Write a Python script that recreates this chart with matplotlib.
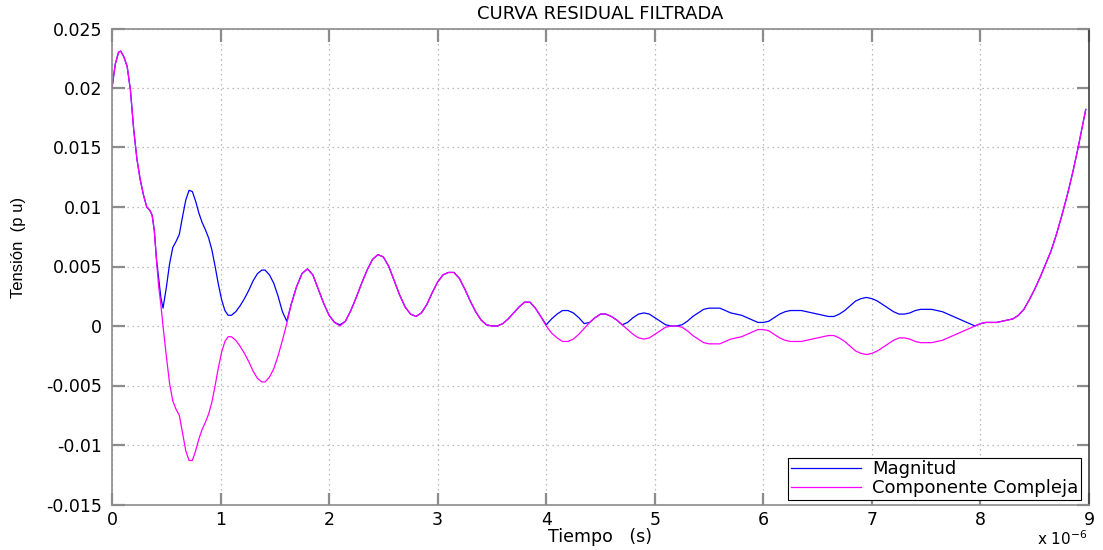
import matplotlib
matplotlib.use("Agg")
import matplotlib.pyplot as plt
from matplotlib.ticker import FuncFormatter, MultipleLocator

# tiempo en microsegundos (eje x en unidades de 1e-6 s)
tiempo_us = [
    0.00, 0.03, 0.06, 0.08, 0.11, 0.14, 0.17, 0.20, 0.23, 0.26, 0.29, 0.32,
    0.35, 0.37, 0.39, 0.41, 0.43, 0.45, 0.47, 0.50, 0.53, 0.56, 0.59, 0.62,
    0.65, 0.68, 0.71, 0.74, 0.77, 0.80, 0.83, 0.86, 0.89, 0.92, 0.95, 0.98,
    1.01, 1.04, 1.07, 1.10, 1.14, 1.18, 1.22, 1.26, 1.30, 1.34, 1.38, 1.41,
    1.45, 1.49, 1.53, 1.57, 1.61, 1.65, 1.70, 1.75, 1.80, 1.85, 1.90, 1.95,
    2.00, 2.05, 2.10, 2.15, 2.20, 2.25, 2.30, 2.35, 2.40, 2.45, 2.50, 2.55,
    2.60, 2.65, 2.70, 2.75, 2.80, 2.85, 2.90, 2.95, 3.00, 3.05, 3.10, 3.15,
    3.20, 3.25, 3.30, 3.35, 3.40, 3.45, 3.50, 3.55, 3.60, 3.65, 3.70, 3.75,
    3.80, 3.85, 3.90, 3.95, 4.00, 4.05, 4.10, 4.15, 4.20, 4.25, 4.30, 4.35,
    4.40, 4.45, 4.50, 4.55, 4.60, 4.65, 4.70, 4.75, 4.80, 4.85, 4.90, 4.95,
    5.00, 5.05, 5.10, 5.15, 5.20, 5.25, 5.30, 5.35, 5.40, 5.45, 5.50, 5.55,
    5.60, 5.65, 5.70, 5.75, 5.80, 5.85, 5.90, 5.95, 6.00, 6.05, 6.10, 6.15,
    6.20, 6.25, 6.30, 6.35, 6.40, 6.45, 6.50, 6.55, 6.60, 6.65, 6.70, 6.75,
    6.80, 6.85, 6.90, 6.95, 7.00, 7.05, 7.10, 7.15, 7.20, 7.25, 7.30, 7.35,
    7.40, 7.45, 7.50, 7.55, 7.60, 7.65, 7.70, 7.75, 7.80, 7.85, 7.90, 7.95,
    8.00, 8.05, 8.10, 8.15, 8.20, 8.25, 8.30, 8.35, 8.40, 8.45, 8.50, 8.55,
    8.60, 8.65, 8.70, 8.75, 8.80, 8.85, 8.90, 8.95, 8.97,
]

componente_compleja = [
    0.0200, 0.0220, 0.0230, 0.0231, 0.0226, 0.0218, 0.0198, 0.0165, 0.0140, 0.0123, 0.0110, 0.0100,
    0.0097, 0.0093, 0.0080, 0.0055, 0.0033, 0.0018, 0.0000, -0.0025, -0.0048, -0.0063, -0.0070, -0.0075,
    -0.0090, -0.0105, -0.0113, -0.0113, -0.0105, -0.0095, -0.0087, -0.0081, -0.0074, -0.0064, -0.0050, -0.0035,
    -0.0022, -0.0013, -0.0009, -0.0009, -0.0012, -0.0017, -0.0023, -0.0030, -0.0038, -0.0044, -0.0047, -0.0047,
    -0.0043, -0.0036, -0.0025, -0.0012, 0.0002, 0.0018, 0.0033, 0.0044, 0.0048, 0.0043, 0.0031, 0.0019,
    0.0009, 0.0003, 0.0000, 0.0004, 0.0013, 0.0024, 0.0036, 0.0047, 0.0056, 0.0060, 0.0058, 0.0050,
    0.0038, 0.0026, 0.0016, 0.0010, 0.0008, 0.0011, 0.0018, 0.0028, 0.0037, 0.0043, 0.0045, 0.0045,
    0.0040, 0.0031, 0.0021, 0.0012, 0.0005, 0.0001, 0.0000, 0.0000, 0.0002, 0.0006, 0.0011, 0.0016,
    0.0020, 0.0020, 0.0015, 0.0008, 0.0000, -0.0006, -0.0010, -0.0013, -0.0013, -0.0011, -0.0007, -0.0002,
    0.0003, 0.0007, 0.0010, 0.0010, 0.0008, 0.0005, 0.0001, -0.0003, -0.0007, -0.0010, -0.0011, -0.0010,
    -0.0007, -0.0004, -0.0001, 0.0000, 0.0000, -0.0001, -0.0004, -0.0008, -0.0011, -0.0014, -0.0015, -0.0015,
    -0.0015, -0.0013, -0.0011, -0.0010, -0.0009, -0.0007, -0.0005, -0.0003, -0.0003, -0.0004, -0.0007, -0.0010,
    -0.0012, -0.0013, -0.0013, -0.0013, -0.0012, -0.0011, -0.0010, -0.0009, -0.0008, -0.0008, -0.0010, -0.0013,
    -0.0017, -0.0021, -0.0023, -0.0024, -0.0023, -0.0021, -0.0018, -0.0015, -0.0012, -0.0010, -0.0010, -0.0011,
    -0.0013, -0.0014, -0.0014, -0.0014, -0.0013, -0.0012, -0.0010, -0.0008, -0.0006, -0.0004, -0.0002, 0.0000,
    0.0002, 0.0003, 0.0003, 0.0003, 0.0004, 0.0005, 0.0006, 0.0009, 0.0014, 0.0022, 0.0031, 0.0041,
    0.0052, 0.0063, 0.0077, 0.0093, 0.0110, 0.0129, 0.0150, 0.0173, 0.0182,
]

magnitud = [
    0.0200, 0.0220, 0.0230, 0.0231, 0.0226, 0.0218, 0.0198, 0.0165, 0.0140, 0.0123, 0.0110, 0.0100,
    0.0097, 0.0093, 0.0080, 0.0056, 0.0040, 0.0024, 0.0015, 0.0032, 0.0052, 0.0066, 0.0071, 0.0077,
    0.0092, 0.0106, 0.0114, 0.0113, 0.0105, 0.0095, 0.0087, 0.0081, 0.0074, 0.0064, 0.0050, 0.0035,
    0.0022, 0.0013, 0.0009, 0.0009, 0.0012, 0.0017, 0.0023, 0.0030, 0.0038, 0.0044, 0.0047, 0.0047,
    0.0043, 0.0036, 0.0025, 0.0012, 0.0004, 0.0018, 0.0033, 0.0044, 0.0048, 0.0043, 0.0031, 0.0019,
    0.0009, 0.0003, 0.0001, 0.0004, 0.0013, 0.0024, 0.0036, 0.0047, 0.0056, 0.0060, 0.0058, 0.0050,
    0.0038, 0.0026, 0.0016, 0.0010, 0.0008, 0.0011, 0.0018, 0.0028, 0.0037, 0.0043, 0.0045, 0.0045,
    0.0040, 0.0031, 0.0021, 0.0012, 0.0005, 0.0001, 0.0000, 0.0000, 0.0002, 0.0006, 0.0011, 0.0016,
    0.0020, 0.0020, 0.0015, 0.0008, 0.0001, 0.0006, 0.0010, 0.0013, 0.0013, 0.0011, 0.0007, 0.0002,
    0.0003, 0.0007, 0.0010, 0.0010, 0.0008, 0.0005, 0.0001, 0.0003, 0.0007, 0.0010, 0.0011, 0.0010,
    0.0007, 0.0004, 0.0001, 0.0000, 0.0000, 0.0001, 0.0004, 0.0008, 0.0011, 0.0014, 0.0015, 0.0015,
    0.0015, 0.0013, 0.0011, 0.0010, 0.0009, 0.0007, 0.0005, 0.0003, 0.0003, 0.0004, 0.0007, 0.0010,
    0.0012, 0.0013, 0.0013, 0.0013, 0.0012, 0.0011, 0.0010, 0.0009, 0.0008, 0.0008, 0.0010, 0.0013,
    0.0017, 0.0021, 0.0023, 0.0024, 0.0023, 0.0021, 0.0018, 0.0015, 0.0012, 0.0010, 0.0010, 0.0011,
    0.0013, 0.0014, 0.0014, 0.0014, 0.0013, 0.0012, 0.0010, 0.0008, 0.0006, 0.0004, 0.0002, 0.0000,
    0.0002, 0.0003, 0.0003, 0.0003, 0.0004, 0.0005, 0.0006, 0.0009, 0.0014, 0.0022, 0.0031, 0.0041,
    0.0052, 0.0063, 0.0077, 0.0093, 0.0110, 0.0129, 0.0150, 0.0173, 0.0182,
]

tiempo = [t * 1e-6 for t in tiempo_us]

FONT = "DejaVu Sans"
FS = 12.5

fig = plt.figure(figsize=(11.03, 5.5), dpi=100)
ax = fig.add_axes([112 / 1103, 1 - 504.5 / 550, (1089 - 112) / 1103, (504.5 - 28.5) / 550])

ax.plot(tiempo, magnitud, color=(0, 0, 1), lw=0.9, label="Magnitud")
ax.plot(tiempo, componente_compleja, color=(1, 0, 1), lw=0.9, label="Componente Compleja")

ax.set_xlim(0, 9e-6)
ax.set_ylim(-0.015, 0.025)
ax.xaxis.set_major_locator(MultipleLocator(1e-6))
ax.yaxis.set_major_locator(MultipleLocator(0.005))
ax.xaxis.set_major_formatter(FuncFormatter(lambda v, p: "%d" % round(v / 1e-6)))
ax.yaxis.set_major_formatter(FuncFormatter(lambda v, p: "0" if abs(v) < 1e-12 else ("%g" % round(v, 4))))

ax.grid(True, color="#a8a8a8", linestyle=(0, (1, 3)), linewidth=0.9)
ax.tick_params(direction="in", length=9, width=1.6, color="#8c8c8c",
               top=True, right=True, labelsize=FS)
ax.tick_params(axis="y", pad=7)
ax.tick_params(axis="x", pad=5)
for lab in ax.get_xticklabels() + ax.get_yticklabels():
    lab.set_family(FONT)
for side in ["left", "bottom", "top"]:
    ax.spines[side].set_color("#8c8c8c")
    ax.spines[side].set_linewidth(1.2)
ax.spines["right"].set_color("#404040")
ax.spines["right"].set_linewidth(1.2)

ax.set_title("CURVA RESIDUAL FILTRADA", family=FONT, fontsize=13, pad=7)
fig.text(600 / 1103, 1 - 537 / 550, "Tiempo   (s)", ha="center", va="center",
         family=FONT, fontsize=FS)
fig.text(19 / 1103, 1 - 247 / 550, "Tensión  (p u)", ha="center", va="center",
         rotation=90, family=["Liberation Sans Narrow", "Liberation Sans"], fontsize=12)
fig.text(1062 / 1103, 1 - 539 / 550, "x 10$^{-6}$", ha="center", va="center",
         family=FONT, fontsize=11)

leg = ax.legend(loc="lower right", bbox_to_anchor=(1081 / 1103, 1 - 500 / 550),
                bbox_transform=fig.transFigure, prop={"family": FONT, "size": 13},
                fancybox=False, framealpha=1, edgecolor="black", borderaxespad=0,
                handlelength=3.9, labelspacing=0.05, borderpad=0.15, handletextpad=0.6)
leg.get_frame().set_linewidth(0.8)

fig.savefig("out.png", dpi=100)
